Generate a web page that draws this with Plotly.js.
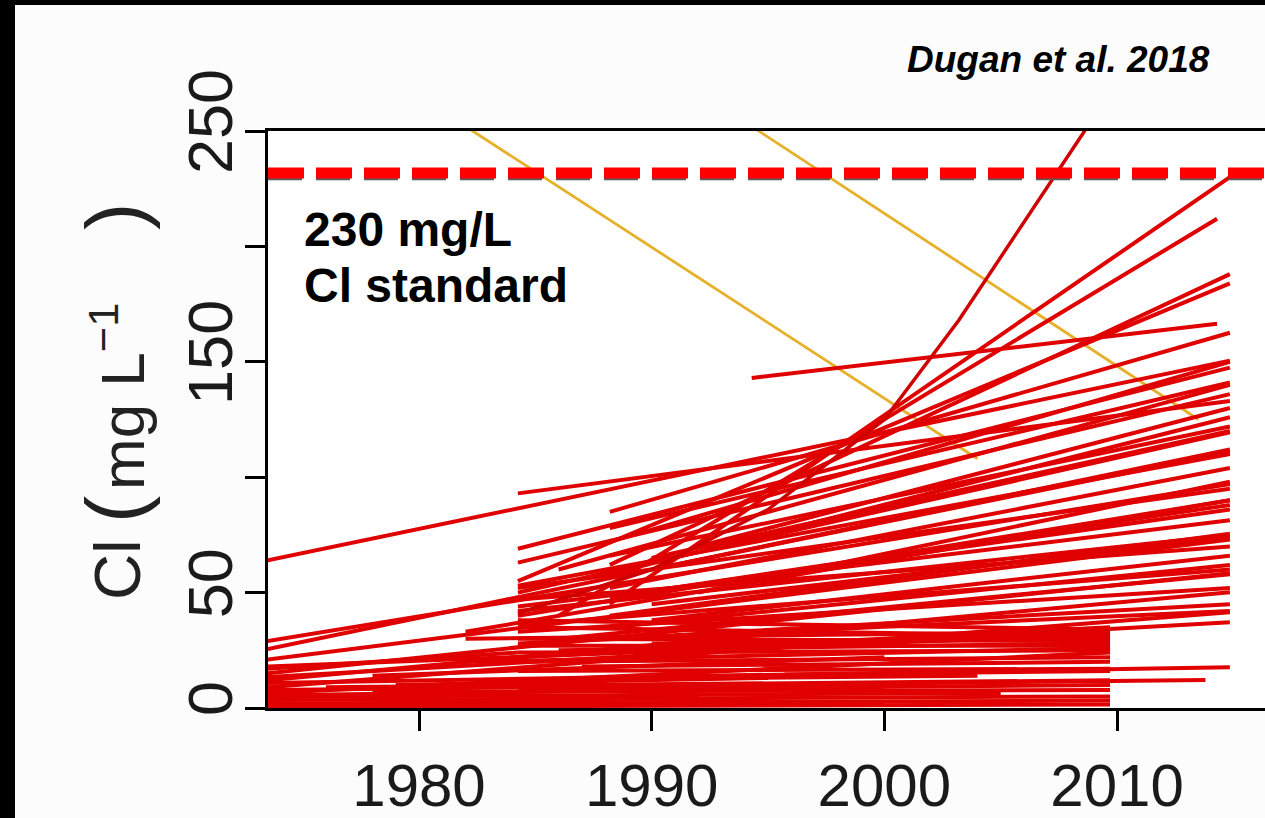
<!DOCTYPE html>
<html><head><meta charset="utf-8">
<script src="https://cdn.plot.ly/plotly-3.0.1.min.js"></script>
<style>
html,body{margin:0;padding:0;background:#000;width:1265px;height:818px;overflow:hidden;}
#chart{position:absolute;left:15px;top:5px;width:1250px;height:813px;}
</style></head><body><div id="chart"></div>
<script>
// Red trend lines: start year/value and end year/value (Cl, mg/L)
const startYear = [1988.2,1986.0,1988.2,1984.25,1973.5,1994.3,1984.25,1988.2,1984.25,1984.25,
  1988.2,1984.25,1973.5,1973.5,1982.0,1984.25,1984.25,1973.5,1988.2,1988.2,
  1988.2,1988.2,1988.2,1992.0,1990.0,1984.25,1992.0,1984.25,1973.5,1973.5,
  1973.5,1973.5,1988.2,1973.5,1973.5,1990.0,1986.0,
  1984.25,1984.25,1984.25,1984.25,1984.25,1982.0,1984.25,1984.25,1995.7,1973.5,
  1973.5,1973.5,1973.5,1976.0,1978.0,1984.25,1980.0,1987.0,1990.0,1986.0,
  1973.5,1984.25,1979.0,1973.5,1978.0,
  1984.25,1984.25,1984.25,1988.2,1988.2,1990.0,1986.0,1973.5,1973.5,1973.5,
  1976.0,1982.0,1984.25,1988.2,1984.25,1990.0,1993.0,1984.25];
const startCl = [45,40,62,55,64,143,93,85,69,63,
  58,50,25.5,29,33,44,42,21,78,72,
  52,40,35,70,60,40,50,36,15,12,
  9,13.4,30,10.8,7.8,65,60,
  38,35,30,27,24,30,20,16,14.5,6.5,
  3.5,2.0,4.8,1.2,7,8,3,18,28,25,
  1.0,12,10,17,14,
  52,47,53,48,66,45,30,18,0.5,5.5,
  9,20,22,26,33,38,55,28];
const endYear = [2014.85,2014.3,2014.85,2014.85,2014.85,2014.3,2014.85,2014.85,2014.85,2014.85,
  2014.85,2014.85,2014.85,2014.85,2014.85,2014.85,2014.85,2014.85,2014.85,2014.85,
  2014.85,2014.85,2014.85,2014.85,2014.85,2014.85,2014.85,2014.85,2014.85,2014.85,
  2014.85,2014.85,2014.85,2014.85,2013.8,2014.85,2014.85,
  2009.7,2009.7,2009.7,2009.7,2009.7,2009.7,2009.7,2009.7,2009.7,2009.7,
  2009.7,2009.7,2005.0,2000.0,2009.7,2009.7,1992.0,2009.7,2009.7,2009.7,
  1990.0,2004.0,1995.0,1984.25,2000.0,
  2014.85,2014.85,2014.85,2014.85,2014.85,2014.85,2014.85,2009.7,2009.7,2000.0,
  2009.7,2009.7,2009.7,2009.7,2014.85,2014.85,2014.85,2014.85];
const endCl = [230,212,188,184,150.5,166.5,133,162.6,147.5,136,
  126,119.4,112,97,90,81.3,75,73,141,150,
  104,75.5,62,130,111,90,98,60,58.4,50.2,
  41.5,37.2,45,17.7,12.1,120,140,
  34,31,29,27,25,33,22,17,16,24,
  5,3.2,6.5,2.2,7.8,10,4.5,20,30,28,
  1.5,14,13,24,22,
  95,70,110,88,122,74,58,32,1.5,9,
  12,26,35,31,52,66,86,42];

// Steep rising record (read at a few points along its path)
const steepYear = [1984.25,1990,1995,2000,2003.2,2008.6,2009.2];
const steepCl = [41,60,86,125,168,250,259];

// Declining records (yellow)
const declineStartYear = [1982.0,1994.3];
const declineStartCl = [252,252];
const declineEndYear = [2004.0,2013.5];
const declineEndCl = [108,125];

// Axis ticks
const xTickVals = [1980,1990,2000,2010];
const xTickText = ['1980','1990','2000','2010'];
const yTickVals = [0,50,150,250];
const yTickText = ['0','50','150','250'];
const yUnlabeledTicks = [100,200];

const standardCl = 230;

const traces = [];
for (let i = 0; i < declineStartYear.length; i++) {
  traces.push({type:'scatter', mode:'lines',
    x:[declineStartYear[i], declineEndYear[i]], y:[declineStartCl[i], declineEndCl[i]],
    line:{color:'#e6b02a', width:2.8}, hoverinfo:'skip'});
}
for (let i = 0; i < startYear.length; i++) {
  traces.push({type:'scatter', mode:'lines',
    x:[startYear[i], endYear[i]], y:[startCl[i], endCl[i]],
    line:{color:'#e00000', width:4}, hoverinfo:'skip'});
}
traces.push({type:'scatter', mode:'lines', x:steepYear, y:steepCl,
  line:{color:'#d00000', width:3.5}, hoverinfo:'skip'});

const FONT = 'Liberation Sans, Arial, Helvetica, sans-serif';
const px2paperX = X => (X - 268) / 997;
const px2paperY = Y => (708 - Y) / 577;

const layout = {
  width:1250, height:813,
  margin:{l:253, r:0, t:126, b:110, pad:0},
  paper_bgcolor:'#fcfcfc', plot_bgcolor:'#ffffff',
  showlegend:false, hovermode:false,
  xaxis:{range:[1973.51, 2016.36], tickvals:xTickVals, ticktext:xTickText,
    ticks:'outside', ticklen:20, tickwidth:3, tickcolor:'#000',
    showline:true, linewidth:3, linecolor:'#000', mirror:true,
    showgrid:false, zeroline:false, ticklabelstandoff:3,
    tickfont:{family:FONT, size:60, color:'#1a1a1a'}},
  yaxis:{range:[0, 250], tickvals:yTickVals, ticktext:yTickText, tickangle:-90,
    ticks:'outside', ticklen:20, tickwidth:3, tickcolor:'#000',
    minor:{tickvals:yUnlabeledTicks, ticks:'outside', ticklen:20, tickwidth:3, tickcolor:'#000', showgrid:false},
    showline:true, linewidth:3, linecolor:'#000', mirror:false,
    showgrid:false, zeroline:false, ticklabelstandoff:-12,
    tickfont:{family:FONT, size:63, color:'#1a1a1a'}},
  shapes:[
    {type:'line', xref:'paper', x0:0, x1:1, yref:'y', y0:standardCl-0.8, y1:standardCl-0.8,
     line:{color:'#5a5a5a', width:2.5, dash:'34px,14px'}},
    {type:'line', xref:'paper', x0:0, x1:1, yref:'y', y0:standardCl+1.8, y1:standardCl+1.8,
     line:{color:'#ff0000', width:11, dash:'36px,12px'}}
  ],
  annotations:[
    {xref:'paper', yref:'paper', x:px2paperX(302), y:px2paperY(229), xanchor:'left', yanchor:'middle',
     text:'<b>230 mg/L</b>', showarrow:false, font:{family:FONT, size:48, color:'#000'}},
    {xref:'paper', yref:'paper', x:px2paperX(302), y:px2paperY(285), xanchor:'left', yanchor:'middle',
     text:'<b>Cl standard</b>', showarrow:false, font:{family:FONT, size:48, color:'#000'}},
    {xref:'paper', yref:'paper', x:px2paperX(1212), y:px2paperY(59.5), xanchor:'right', yanchor:'middle',
     text:'<b><i>Dugan et al. 2018</i></b>', showarrow:false, font:{family:FONT, size:37, color:'#000'}},
    {xref:'paper', yref:'paper', x:px2paperX(118), y:px2paperY(570), xanchor:'center', yanchor:'middle',
     text:'Cl', textangle:-90, showarrow:false, font:{family:FONT, size:64, color:'#222'}},
    {xref:'paper', yref:'paper', x:px2paperX(114), y:px2paperY(510), xanchor:'center', yanchor:'middle',
     text:'(', textangle:-90, showarrow:false, font:{family:FONT, size:82, color:'#222'}},
    {xref:'paper', yref:'paper', x:px2paperX(118), y:px2paperY(397), xanchor:'center', yanchor:'middle',
     text:'mg L<sup>\u22121</sup>', textangle:-90, showarrow:false, font:{family:FONT, size:62, color:'#222'}},
    {xref:'paper', yref:'paper', x:px2paperX(114), y:px2paperY(217), xanchor:'center', yanchor:'middle',
     text:')', textangle:-90, showarrow:false, font:{family:FONT, size:82, color:'#222'}}
  ]
};

Plotly.newPlot('chart', traces, layout, {displayModeBar:false, staticPlot:true});
</script></body></html>
